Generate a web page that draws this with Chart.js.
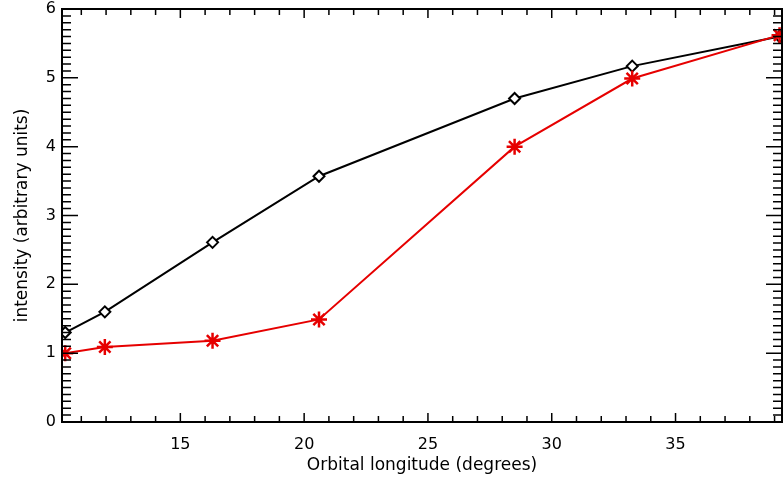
<!DOCTYPE html>
<html>
<head>
<meta charset="utf-8">
<script src="https://cdn.jsdelivr.net/npm/chart.js@4/dist/chart.umd.min.js"></script>
<style>
  html, body { margin: 0; padding: 0; background: #fff; }
  #wrap { width: 783px; height: 484px; }
</style>
</head>
<body>
<div id="wrap"><canvas id="plot"></canvas></div>
<script>
// orbital longitude (degrees)
const longitude = [10.35, 11.95, 16.3, 20.6, 28.5, 33.25, 39.2];
// black diamonds
const blackSeries = [1.30, 1.60, 2.61, 3.57, 4.70, 5.17, 5.60];
// red asterisks
const redSeries = [1.00, 1.09, 1.18, 1.49, 4.00, 4.99, 5.62];

const xTicks = [15, 20, 25, 30, 35];
const yTicks = [0, 1, 2, 3, 4, 5, 6];

const toPoints = ys => ys.map((y, i) => ({ x: longitude[i], y }));

// IDL style frame: box on all four sides, ticks pointing inwards
const framePlugin = {
    id: 'frame',
    afterDatasetsDraw(chart) {
        const { ctx, chartArea: a, scales } = chart;
        const sx = scales.x, sy = scales.y;
        ctx.save();
        ctx.strokeStyle = '#000';
        ctx.lineWidth = 2;
        ctx.strokeRect(a.left, a.top, a.right - a.left, a.bottom - a.top);
        ctx.lineWidth = 1.5;
        ctx.beginPath();
        for (let v = Math.ceil(sx.min); v <= sx.max; v++) {
            const px = sx.getPixelForValue(v);
            const len = v % 5 === 0 ? 9 : 6;
            ctx.moveTo(px, a.bottom); ctx.lineTo(px, a.bottom - len);
            ctx.moveTo(px, a.top); ctx.lineTo(px, a.top + len);
        }
        for (let k = Math.ceil(sy.min * 10); k <= sy.max * 10; k++) {
            const py = sy.getPixelForValue(k / 10);
            const len = k % 10 === 0 ? 16 : 9;
            ctx.moveTo(a.left, py); ctx.lineTo(a.left + len, py);
            ctx.moveTo(a.right, py); ctx.lineTo(a.right - len, py);
        }
        ctx.stroke();
        ctx.restore();
    }
};

const tickFont = { family: 'DejaVu Sans', size: 16 };
const titleFont = { family: 'DejaVu Sans', size: 17 };

new Chart(document.getElementById('plot'), {
    type: 'line',
    data: {
        datasets: [
            {
                data: toPoints(redSeries),
                borderColor: '#e60000',
                backgroundColor: '#e60000',
                borderWidth: 2,
                pointStyle: 'star',
                pointRadius: 8,
                pointBorderWidth: 2.5,
                tension: 0
            },
            {
                data: toPoints(blackSeries),
                borderColor: '#000',
                backgroundColor: '#fff',
                borderWidth: 2,
                pointStyle: 'rectRot',
                pointRadius: 5.5,
                pointBorderWidth: 2,
                tension: 0
            }
        ]
    },
    options: {
        responsive: true,
        maintainAspectRatio: false,
        animation: false,
        layout: { autoPadding: false, padding: { top: 9, right: 1, left: 0, bottom: 0 } },
        plugins: {
            legend: { display: false },
            tooltip: { enabled: false }
        },
        scales: {
            x: {
                type: 'linear',
                min: 10.22,
                max: 39.3,
                grid: { display: false },
                border: { display: false },
                afterBuildTicks: s => { s.ticks = xTicks.map(v => ({ value: v })); },
                afterFit: s => { s.height = 62; s.paddingLeft = 0; s.paddingRight = 0; },
                ticks: { color: '#000', font: tickFont, padding: 5, maxRotation: 0 },
                title: {
                    display: true,
                    text: 'Orbital longitude (degrees)',
                    color: '#000',
                    font: titleFont,
                    padding: { top: 0, bottom: 8 }
                }
            },
            y: {
                min: 0,
                max: 6,
                grid: { display: false },
                border: { display: false },
                afterBuildTicks: s => { s.ticks = yTicks.map(v => ({ value: v })); },
                afterFit: s => { s.width = 62; s.paddingTop = 0; s.paddingBottom = 0; },
                ticks: { color: '#000', font: tickFont, padding: -2 },
                title: {
                    display: true,
                    text: 'intensity (arbitrary units)',
                    color: '#000',
                    font: titleFont,
                    padding: { top: 12, bottom: 0 }
                }
            }
        }
    },
    plugins: [framePlugin]
});
</script>
</body>
</html>
